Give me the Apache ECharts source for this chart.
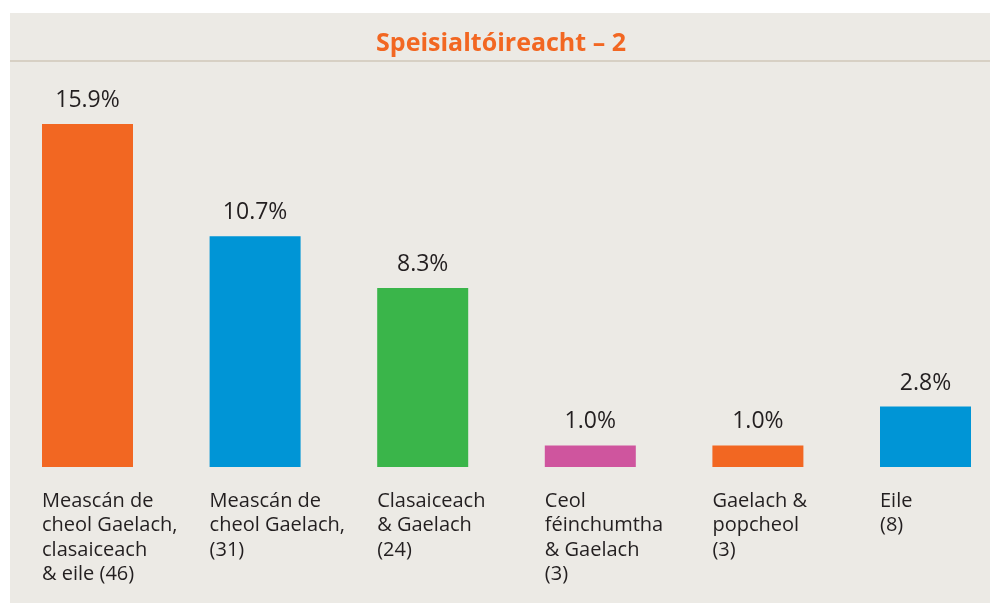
<!DOCTYPE html>
<html>
<head>
<meta charset="utf-8">
<script src="https://cdn.jsdelivr.net/npm/echarts@6/dist/echarts.min.js"></script>
<style>
html,body{margin:0;padding:0;background:#fff;}
#chart{width:990px;height:603px;}
</style>
</head>
<body>
<div id="chart"></div>
<script>
const titleText = 'Speisialtóireacht – 2';
const categories = [
  'Meascán de\ncheol Gaelach,\nclasaiceach\n& eile (46)',
  'Meascán de\ncheol Gaelach,\n(31)',
  'Clasaiceach\n& Gaelach\n(24)',
  'Ceol\nféinchumtha\n& Gaelach\n(3)',
  'Gaelach &\npopcheol\n(3)',
  'Eile\n(8)'
];
const values = [15.9, 10.7, 8.3, 1.0, 1.0, 2.8];
const barColors = ['#F26722', '#0095D6', '#3AB54A', '#CF559E', '#F26722', '#0095D6'];

const FONT = '"Open Sans", "Noto Sans", sans-serif';
const chart = echarts.init(document.getElementById('chart'), null, {renderer: 'canvas'});
chart.setOption({
  backgroundColor: '#ffffff',
  animation: false,
  graphic: [
    {type: 'rect', left: 10, top: 13, z: -10, shape: {width: 980, height: 590}, style: {fill: '#ECEAE5'}},
    {type: 'rect', left: 10, top: 60, z: -9, shape: {width: 980, height: 2}, style: {fill: '#D7D0C4'}}
  ],
  title: {
    text: titleText,
    left: 496, top: 26, textAlign: 'center',
    textStyle: {color: '#F26722', fontFamily: FONT, fontWeight: 'bold', fontSize: 25}
  },
  grid: {left: 3.7, width: 1005.6, top: 35.6, bottom: 136, containLabel: false, outerBoundsMode: 'none'},
  xAxis: {
    type: 'category', data: categories,
    axisLine: {show: false}, axisTick: {show: false}, axisLabel: {show: false}
  },
  yAxis: {
    type: 'value', min: 0, max: 20, show: false, splitLine: {show: false}
  },
  series: [
    {
      type: 'bar', barWidth: 91, silent: true,
      data: values.map((v, i) => ({value: v, itemStyle: {color: barColors[i]}})),
      label: {
        show: true, position: 'top', distance: 12,
        formatter: p => p.value.toFixed(1) + '%',
        color: '#231F20', fontFamily: FONT, fontSize: 23
      }
    },
    {
      type: 'bar', barWidth: 91, barGap: '-100%', silent: true,
      data: values,
      itemStyle: {color: 'transparent'},
      label: {
        show: true, position: ['0%', '100%'], offset: [0, 22],
        align: 'left', verticalAlign: 'top',
        formatter: p => categories[p.dataIndex],
        color: '#231F20', fontFamily: FONT, fontSize: 20, lineHeight: 24.5
      }
    }
  ]
});
</script>
</body>
</html>
